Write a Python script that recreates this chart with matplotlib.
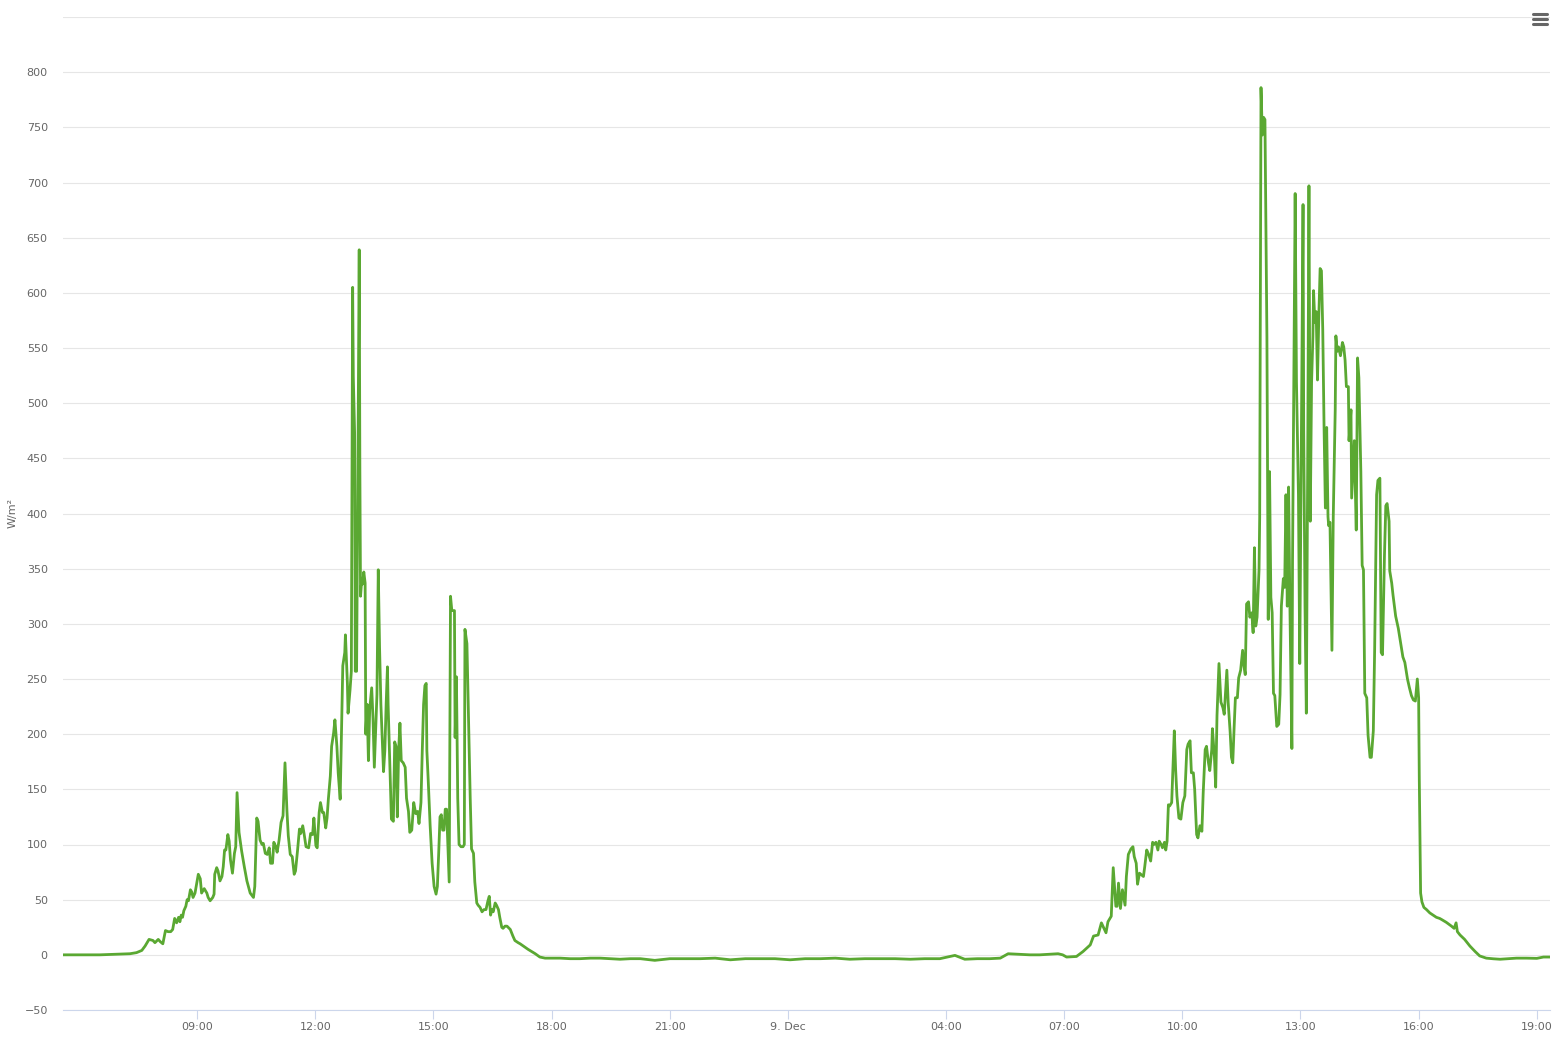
"""Solar radiation chart (W/m²) over two days, Highcharts-like styling."""
import matplotlib
matplotlib.use("Agg")
import matplotlib.pyplot as plt
from matplotlib.lines import Line2D
import numpy as np

# Minutes since 8 Dec 00:00 and radiation values (W/m²)
day1_minutes = [
    336, 362, 392, 438, 448, 456, 461, 467, 473, 476, 481, 484, 488, 492, 496, 500,
    503, 506, 509, 512, 514, 516, 518, 520, 523, 525, 527, 530, 532, 534, 537, 540,
    542, 545, 547, 551, 555, 557, 560, 564, 566, 567, 570, 572, 575, 578, 580, 582,
    584, 587, 589, 591, 594, 597, 599, 601, 604, 608, 612, 616, 621, 626, 628, 631,
    633, 636, 639, 641, 644, 647, 650, 652, 655, 657, 660, 662, 665, 668, 671, 674,
    677, 679, 682, 685, 688, 690, 693, 696, 698, 701, 703, 706, 710, 713, 716, 718,
    721, 723, 726, 728, 731, 733, 736, 738, 740, 743, 745, 748, 750, 753, 755, 758,
    759, 762, 765, 766, 769, 770, 773, 775, 777, 778, 780, 781, 783, 785, 787, 788,
    789, 791, 792, 794, 796, 797, 799, 801, 803, 806, 808, 810, 812, 814, 816, 818,
    820, 822, 824, 826, 828, 830, 831, 834, 836, 839, 841, 843, 845, 847, 849, 851,
    854, 857, 859, 862, 864, 867, 870, 873, 876, 878, 881, 883, 885, 887, 889, 890,
    892, 895, 898, 901, 904, 906, 908, 910, 912, 914, 916, 918, 920, 922, 924, 926,
    928, 929, 932, 933, 935, 937, 939, 942, 945, 947, 948, 951, 953, 956, 958, 961,
    963, 966, 968, 971, 974, 977, 980, 983, 985, 987, 989, 991, 994, 996, 999, 1001,
    1004, 1006, 1009, 1012, 1017, 1021, 1024, 1029, 1032, 1044, 1055, 1062, 1070,
]
day1_wm2 = [
    0, 0, 0, 1, 2, 4, 8, 14, 13, 11, 14, 12, 10, 22, 21, 21,
    23, 33, 29, 34, 30, 36, 34, 40, 44, 50, 49, 59, 57, 52, 56, 66,
    73, 69, 56, 60, 56, 52, 49, 52, 55, 73, 79, 76, 67, 71, 80, 95,
    95, 109, 103, 86, 74, 92, 98, 147, 111, 94, 80, 67, 56, 52, 62, 124,
    121, 104, 100, 101, 92, 91, 97, 83, 83, 102, 98, 93, 104, 120, 126, 174,
    130, 108, 91, 89, 73, 76, 94, 114, 110, 117, 110, 98, 97, 110, 109, 124,
    99, 97, 129, 138, 129, 129, 115, 124, 141, 162, 189, 201, 213, 189, 165, 141,
    171, 262, 274, 290, 246, 219, 240, 257, 605, 524, 473, 257, 257, 439, 639, 439,
    325, 341, 336, 347, 337, 200, 227, 176, 223, 242, 214, 170, 202, 236, 349, 278,
    227, 197, 166, 185, 227, 261, 227, 164, 123, 121, 193, 189, 125, 185, 210, 176,
    174, 170, 142, 130, 111, 113, 138, 128, 130, 119, 138, 185, 227, 244, 246, 185,
    159, 117, 83, 62, 55, 62, 92, 125, 127, 113, 113, 132, 132, 100, 66, 325,
    312, 312, 312, 197, 252, 142, 100, 98, 98, 100, 295, 282, 227, 142, 96, 92,
    66, 47, 45, 43, 39, 41, 41, 49, 53, 36, 41, 39, 47, 45, 41, 34,
    25, 24, 26, 26, 23, 17, 13, 11, 10, 5, 1, -2, -3,
]

night_minutes = [
    1093, 1108, 1123, 1139, 1154, 1169, 1184, 1200, 1215, 1237, 1260, 1283, 1306,
    1329, 1352, 1375, 1397, 1420, 1443, 1466, 1489, 1512, 1534, 1557, 1580, 1603,
    1626, 1648, 1671, 1694, 1709, 1728, 1747, 1763, 1775, 1793, 1808, 1823, 1838,
    1851, 1858,
]
night_wm2 = [
    -3, -3.5, -3.5, -3, -3, -3.5, -4, -3.5, -3.5, -5, -3.5, -3.5, -3.5,
    -3, -4.5, -3.5, -3.5, -3.5, -4.5, -3.5, -3.5, -3, -4, -3.5, -3.5, -3.5,
    -4, -3.5, -3.5, -0.5, -4, -3.5, -3.5, -3, 1, 0.5, 0, 0, 0.5,
    1, 0,
]

day2_minutes = [
    1864, 1879, 1889, 1900, 1905, 1912, 1917, 1924, 1927, 1932, 1935, 1939, 1941,
    1943, 1946, 1949, 1953, 1955, 1958, 1962, 1965, 1967, 1970, 1972, 1975, 1977,
    1981, 1983, 1986, 1989, 1992, 1995, 1997, 2000, 2003, 2005, 2008, 2010, 2013,
    2015, 2017, 2019, 2021, 2024, 2028, 2030, 2032, 2035, 2038, 2041, 2044, 2047,
    2049, 2052, 2054, 2057, 2059, 2062, 2064, 2067, 2070, 2072, 2075, 2077, 2080,
    2082, 2085, 2086, 2089, 2091, 2093, 2096, 2099, 2102, 2104, 2108, 2110, 2113,
    2115, 2117, 2119, 2121, 2124, 2126, 2129, 2132, 2134, 2136, 2138, 2141, 2143,
    2146, 2148, 2150, 2152, 2154, 2157, 2158, 2160, 2162, 2164, 2166, 2169, 2171,
    2173, 2175, 2177, 2179, 2181, 2184, 2187, 2189, 2191, 2194, 2196, 2198, 2200,
    2202, 2204, 2207, 2208, 2210, 2212, 2214, 2217, 2219, 2222, 2224, 2225, 2227,
    2229, 2231, 2233, 2235, 2237, 2239, 2240, 2242, 2244, 2246, 2248, 2250, 2252,
    2254, 2256, 2258, 2260, 2262, 2263, 2265, 2268, 2270, 2273, 2274, 2276, 2278,
    2281, 2284, 2286, 2288, 2290, 2293, 2294, 2297, 2298, 2302, 2305, 2307, 2309,
    2312, 2314, 2316, 2318, 2321, 2323, 2326, 2328, 2331, 2333, 2336, 2338, 2341,
    2343, 2345, 2348, 2350, 2352, 2355, 2356, 2359, 2361, 2365, 2369, 2372, 2376,
    2379, 2383, 2386, 2389, 2392, 2395, 2397, 2398, 2400, 2401, 2402, 2403, 2405,
    2408, 2412, 2417, 2422, 2427, 2432, 2435, 2442, 2450, 2454, 2457, 2459, 2463,
    2470, 2478, 2486, 2493, 2503, 2514, 2524, 2534, 2549, 2564, 2580, 2590, 2600,
]
day2_wm2 = [
    -2, -1.5, 3, 9, 17, 18, 29, 20, 30, 35, 79, 44, 44,
    65, 42, 59, 45, 71, 91, 96, 98, 89, 83, 64, 74, 73,
    71, 80, 95, 91, 85, 102, 100, 102, 95, 103, 100, 97, 102,
    95, 103, 136, 135, 138, 203, 168, 144, 124, 123, 138, 144, 186,
    191, 194, 165, 165, 150, 109, 106, 117, 112, 147, 186, 189, 174,
    167, 186, 205, 180, 152, 217, 264, 229, 224, 218, 258, 229, 202,
    179, 174, 205, 233, 233, 251, 258, 276, 262, 254, 318, 320, 306,
    310, 292, 369, 298, 306, 349, 397, 786, 743, 759, 757, 560, 304,
    438, 324, 310, 237, 235, 207, 209, 236, 316, 341, 333, 417, 316,
    424, 316, 187, 357, 519, 690, 519, 417, 264, 519, 680, 478, 316,
    219, 438, 697, 393, 519, 560, 602, 573, 583, 521, 578, 622, 620,
    567, 478, 405, 478, 397, 389, 392, 276, 397, 494, 561, 547, 551,
    543, 555, 551, 539, 515, 515, 466, 494, 414, 466, 385, 541, 523,
    438, 353, 349, 237, 233, 199, 179, 179, 203, 276, 417, 430, 432,
    274, 272, 363, 407, 409, 393, 348, 337, 326, 307, 296, 285, 270,
    265, 250, 242, 235, 231, 230, 244, 250, 233, 159, 104, 56, 48,
    43, 41, 38, 36, 34, 33, 32, 29.5, 26, 24, 29, 21, 18,
    14, 8, 3, -1, -3, -3.6, -4, -3.6, -3, -3, -3.2, -2, -2,
]

# x-axis ticks (hours since 8 Dec 00:00) and their labels
tick_hours = [9, 12, 15, 18, 21, 24, 28, 31, 34, 37, 40, 43]
tick_labels = ["09:00", "12:00", "15:00", "18:00", "21:00", "9. Dec",
               "04:00", "07:00", "10:00", "13:00", "16:00", "19:00"]
y_ticks = list(range(-50, 851, 50))

LINE_COLOR = "#5aa832"
TEXT_COLOR = "#666666"
GRID_COLOR = "#e6e6e6"
AXIS_COLOR = "#ccd6eb"

minutes = np.array(day1_minutes + night_minutes + day2_minutes, dtype=float)
values = np.array(day1_wm2 + night_wm2 + day2_wm2, dtype=float)
hours = minutes / 60.0

fig = plt.figure(figsize=(15.65, 10.45), dpi=100)
fig.set_facecolor("white")
ax = fig.add_axes([63 / 1565, 35 / 1045, (1550 - 63) / 1565, (1010 - 17) / 1045])

ax.plot(hours, values, color=LINE_COLOR, linewidth=2.0, solid_joinstyle="round")

ax.set_xlim(336 / 60.0, 2600 / 60.0)
ax.set_ylim(-50, 850)

# grid and axes
ax.set_yticks(y_ticks)
ax.set_yticklabels(["\u221250" if t < 0 else ("" if t == 850 else str(t)) for t in y_ticks])
ax.yaxis.grid(True, color=GRID_COLOR, linewidth=0.8)
ax.set_axisbelow(True)
for side in ["top", "right", "left"]:
    ax.spines[side].set_visible(False)
ax.spines["bottom"].set_color(AXIS_COLOR)
ax.spines["bottom"].set_linewidth(0.8)

ax.set_xticks(tick_hours)
ax.set_xticklabels(tick_labels)
ax.tick_params(axis="x", colors=AXIS_COLOR, length=6.5, width=0.8, pad=2,
               labelcolor=TEXT_COLOR, labelsize=8)
ax.tick_params(axis="y", length=0, pad=11, labelcolor=TEXT_COLOR, labelsize=8)

fig.text(13 / 1565, 1 - 513 / 1045, "W/m\u00b2", rotation=90, color=TEXT_COLOR,
         fontsize=8, ha="center", va="center")

# export menu icon (top right)
for y_px in (13.5, 18.5, 23.5):
    yy = 1 - y_px / 1045
    fig.add_artist(Line2D([1533 / 1565, 1547 / 1565], [yy, yy], color=TEXT_COLOR,
                          linewidth=2.2, solid_capstyle="round"))

fig.savefig("out.png", dpi=100, facecolor="white")
plt.close(fig)
